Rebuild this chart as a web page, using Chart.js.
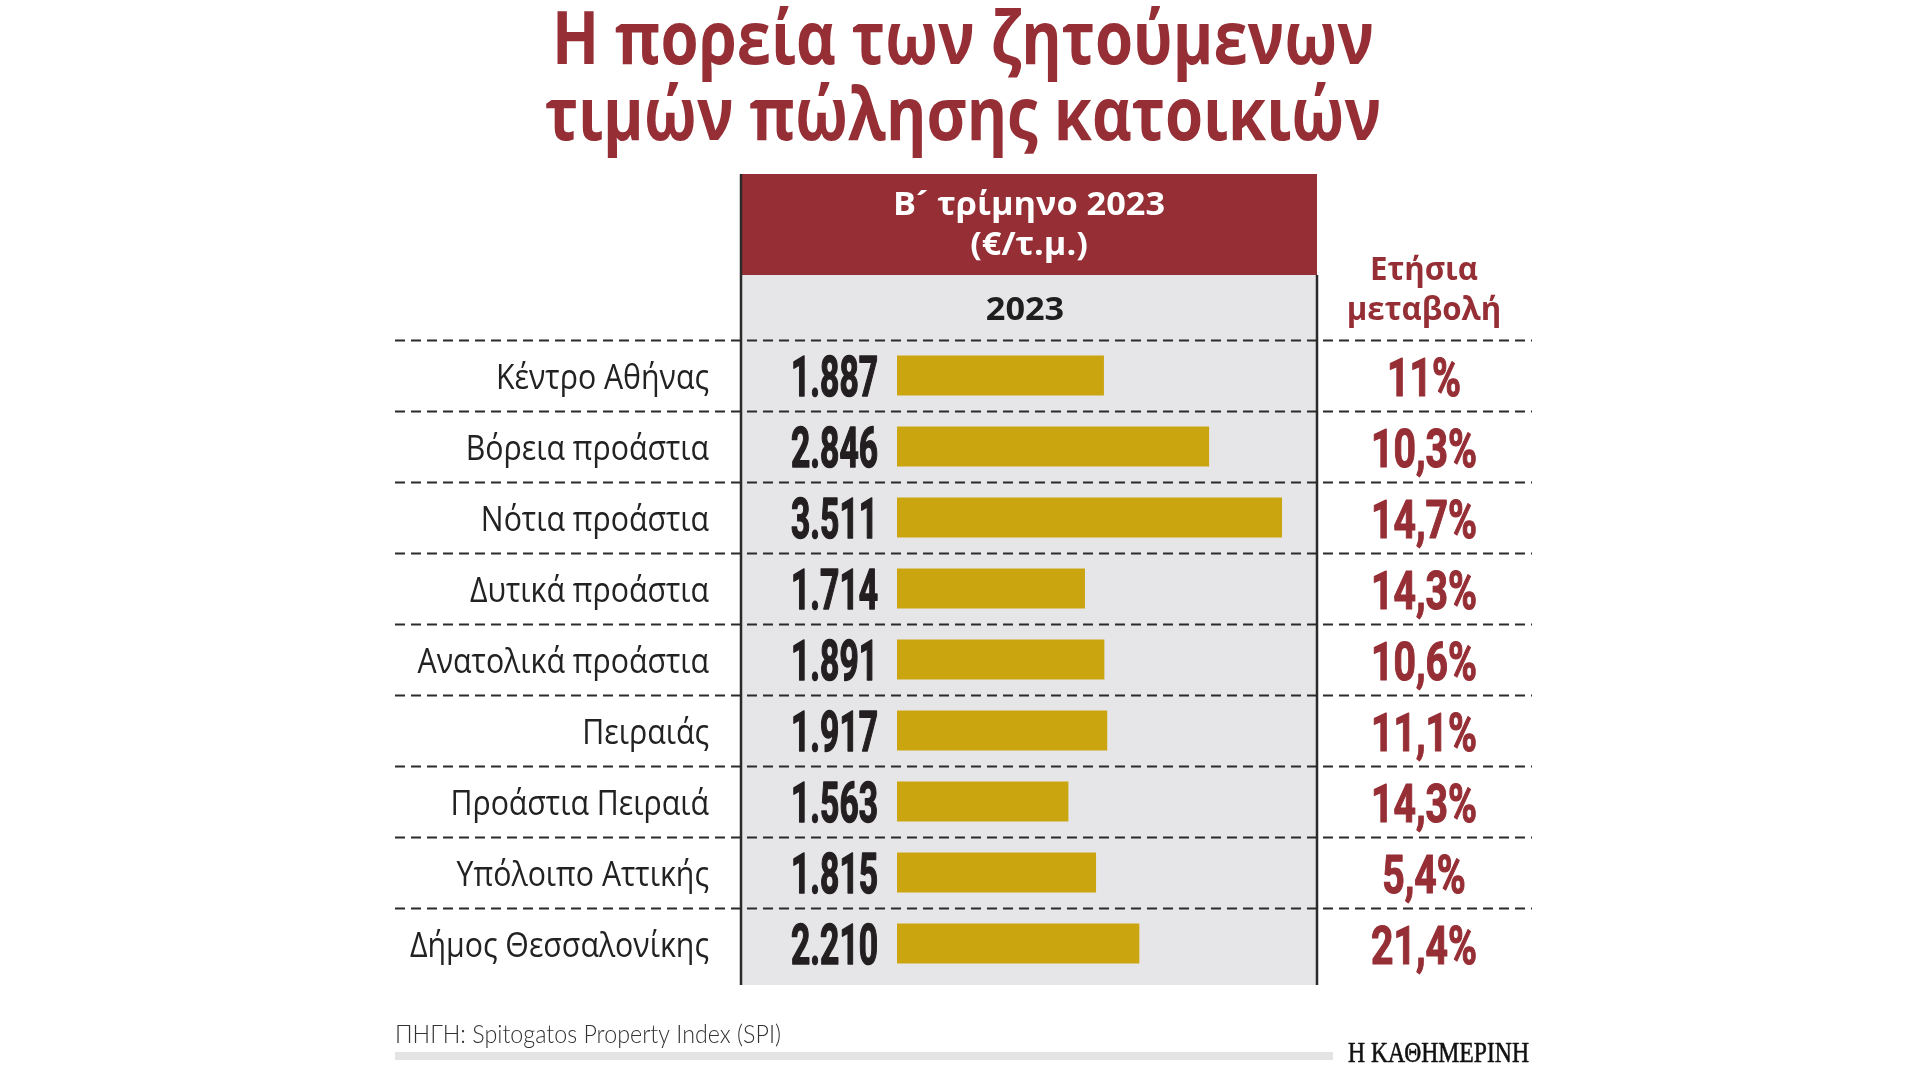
<!DOCTYPE html>
<html>
<head>
<meta charset="utf-8">
<script src="https://cdn.jsdelivr.net/npm/chart.js@4.4.0/dist/chart.umd.min.js"></script>
<style>
  html, body { margin: 0; padding: 0; background: #fff; }
  canvas { display: block; }
</style>
</head>
<body>
<canvas id="spiChart" width="1920" height="1080"></canvas>
<script>
// data
var regions = ['Κέντρο Αθήνας', 'Βόρεια προάστια', 'Νότια προάστια', 'Δυτικά προάστια',
  'Ανατολικά προάστια', 'Πειραιάς', 'Προάστια Πειραιά', 'Υπόλοιπο Αττικής', 'Δήμος Θεσσαλονίκης'];
var prices2023 = [1887, 2846, 3511, 1714, 1891, 1917, 1563, 1815, 2210];
var yearlyChange = [11, 10.3, 14.7, 14.3, 10.6, 11.1, 14.3, 5.4, 21.4];
var titleLines = ['Η πορεία των ζητούμενων', 'τιμών πώλησης κατοικιών'];
var headerLines = ['Β\u00b4 τρίμηνο 2023', '(€/τ.μ.)'];
var seriesLabel = '2023';
var changeHeader = ['Ετήσια', 'μεταβολή'];
var sourceText = 'ΠΗΓΗ: Spitogatos Property Index (SPI)';
var logoText = 'Η ΚΑΘΗΜΕΡΙΝΗ';

var RED = '#962e35';
var GOLD = '#cba50f';
var PANEL = '#e6e6e8';
var INK = '#2a2a2a';

function fmtPrice(v) {
    return String(v).replace(/\B(?=(\d{3})+(?!\d))/g, '.');
}
function fmtPct(v) {
    return String(v).replace('.', ',') + '%';
}

// squeeze factor so that a sample string gets the width seen in the picture
function fit(ctx, font, sample, width) {
    ctx.save();
    ctx.font = font;
    var w = ctx.measureText(sample).width;
    ctx.restore();
    return width / w;
}

function txt(ctx, s, x, y, font, color, align, sx, bold) {
    ctx.save();
    ctx.font = font;
    ctx.fillStyle = color;
    ctx.textAlign = 'left';
    ctx.textBaseline = 'alphabetic';
    var w = ctx.measureText(s).width * sx;
    var left = align === 'right' ? x - w : (align === 'center' ? x - w / 2 : x);
    ctx.translate(left, y);
    ctx.scale(sx, 1);
    ctx.fillText(s, 0, 0);
    if (bold) {
        // heavier strokes like the condensed black face of the original
        ctx.strokeStyle = color;
        ctx.lineWidth = bold;
        ctx.lineJoin = 'round';
        ctx.strokeText(s, 0, 0);
    }
    ctx.restore();
}

var FONT_TITLE = '700 73px "Open Sans", "Noto Sans", sans-serif';
var FONT_HEAD = '700 33px "Open Sans", "Noto Sans", sans-serif';
var FONT_LABEL = '400 35px "Open Sans", "Noto Sans", sans-serif';
var FONT_NUM = '700 56px "Liberation Sans Narrow", Roboto, sans-serif';
var FONT_PCT = '700 54px "Liberation Sans Narrow", Roboto, sans-serif';
var FONT_SRC = '300 25px Lato, "Open Sans", sans-serif';
var FONT_LOGO = '400 29px "Liberation Serif", "DejaVu Serif", serif';

var panelLeft = 741, panelRight = 1317, boxTop = 174, boxBottom = 275, panelBottom = 985;
var ruleLeft = 395, ruleRight = 1532;

var tablePlugin = {
    id: 'tablePlugin',
    beforeDatasetsDraw: function (chart) {
        var ctx = chart.ctx;
        var y = chart.scales.y;
        ctx.save();
        // panel + red header box
        ctx.fillStyle = PANEL;
        ctx.fillRect(panelLeft, boxBottom, panelRight - panelLeft, panelBottom - boxBottom);
        ctx.fillStyle = RED;
        ctx.fillRect(panelLeft, boxTop, panelRight - panelLeft, boxBottom - boxTop);

        // dashed row rules
        ctx.strokeStyle = INK;
        ctx.lineWidth = 2;
        ctx.setLineDash([10, 6]);
        var half = (y.getPixelForValue(1) - y.getPixelForValue(0)) / 2;
        regions.forEach(function (r, i) {
            var yy = Math.round(y.getPixelForValue(i) - half) + 0.5;
            ctx.beginPath();
            ctx.moveTo(ruleLeft, yy);
            ctx.lineTo(ruleRight, yy);
            ctx.stroke();
        });
        ctx.setLineDash([]);

        // panel side lines
        ctx.lineWidth = 2.5;
        ctx.beginPath();
        ctx.moveTo(panelLeft, boxTop);
        ctx.lineTo(panelLeft, panelBottom);
        ctx.moveTo(panelRight, boxBottom);
        ctx.lineTo(panelRight, panelBottom);
        ctx.stroke();

        // footer bar
        ctx.fillStyle = '#e4e4e4';
        ctx.fillRect(395, 1052, 938, 8);
        ctx.restore();
    },
    afterDatasetsDraw: function (chart) {
        var ctx = chart.ctx;
        var y = chart.scales.y;

        var sTitle = fit(ctx, FONT_TITLE, titleLines[0], 822);
        txt(ctx, titleLines[0], 963, 64, FONT_TITLE, RED, 'center', sTitle);
        txt(ctx, titleLines[1], 963, 140, FONT_TITLE, RED, 'center', sTitle);

        var sHead = fit(ctx, FONT_HEAD, headerLines[0], 272);
        txt(ctx, headerLines[0], 1029, 215, FONT_HEAD, '#fff', 'center', sHead);
        txt(ctx, headerLines[1], 1029, 255, FONT_HEAD, '#fff', 'center', sHead);
        txt(ctx, seriesLabel, 1025, 320, FONT_HEAD, '#1e1e1e', 'center', sHead);

        var sChg = fit(ctx, FONT_HEAD, changeHeader[0], 108);
        txt(ctx, changeHeader[0], 1424, 280, FONT_HEAD, RED, 'center', sChg);
        txt(ctx, changeHeader[1], 1424, 320, FONT_HEAD, RED, 'center', sChg);

        var sLab = fit(ctx, FONT_LABEL, regions[0], 213);
        var sNum = fit(ctx, FONT_NUM, fmtPrice(prices2023[0]), 87);
        var sPct = fit(ctx, FONT_PCT, fmtPct(yearlyChange[1]), 106);
        regions.forEach(function (r, i) {
            var cy = y.getPixelForValue(i);
            txt(ctx, r, 709, cy + 13, FONT_LABEL, '#222', 'right', sLab);
            txt(ctx, fmtPrice(prices2023[i]), 878, cy + 20, FONT_NUM, '#231f20', 'right', sNum, 1.6);
            txt(ctx, fmtPct(yearlyChange[i]), 1424, cy + 20, FONT_PCT, RED, 'center', sPct, 1.2);
        });

        var sSrc = fit(ctx, FONT_SRC, sourceText, 386);
        txt(ctx, sourceText, 395, 1043, FONT_SRC, '#333', 'left', sSrc);
        var sLogo = fit(ctx, FONT_LOGO, logoText, 181);
        txt(ctx, logoText, 1529, 1062, FONT_LOGO, '#111', 'right', sLogo, 0.6);
    }
};

var ctx = document.getElementById('spiChart');
var chart = new Chart(ctx, {
    type: 'bar',
    data: {
        labels: regions,
        datasets: [{
            label: seriesLabel,
            data: prices2023,
            backgroundColor: GOLD,
            borderWidth: 0,
            barPercentage: 0.56,
            categoryPercentage: 1
        }]
    },
    options: {
        indexAxis: 'y',
        responsive: false,
        animation: false,
        devicePixelRatio: 1,
        layout: {
            padding: { left: 897, right: 603, top: 340, bottom: 101 }
        },
        scales: {
            x: { type: 'linear', min: 0, max: 3830, display: false },
            y: { type: 'category', display: false, offset: true }
        },
        plugins: {
            legend: { display: false },
            tooltip: { enabled: false },
            title: { display: false }
        }
    },
    plugins: [tablePlugin]
});
</script>
</body>
</html>
